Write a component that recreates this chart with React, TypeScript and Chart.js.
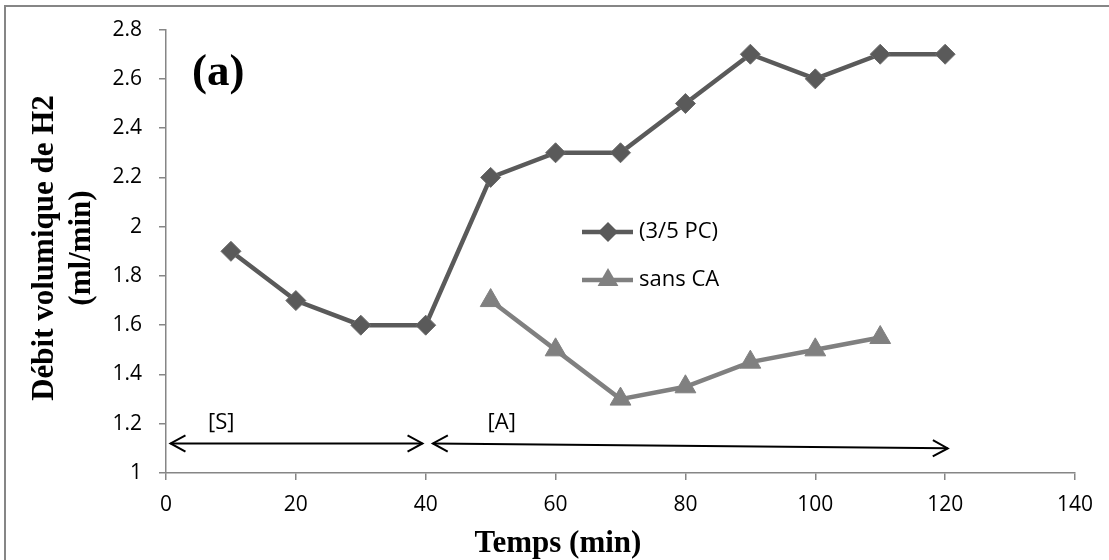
import React, { useEffect, useRef } from 'react';
import { Chart, registerables } from 'chart.js';

Chart.register(...registerables);

// ---- data ----
const pcTimes = [10, 20, 30, 40, 50, 60, 70, 80, 90, 100, 110, 120];
const pcValues = [1.9, 1.7, 1.6, 1.6, 2.2, 2.3, 2.3, 2.5, 2.7, 2.6, 2.7, 2.7];
const sansCaTimes = [50, 60, 70, 80, 90, 100, 110];
const sansCaValues = [1.7, 1.5, 1.3, 1.35, 1.45, 1.5, 1.55];
const seriesLabels = ['(3/5 PC)', 'sans CA'];
const xTitle = 'Temps (min)';
const yTitleLines = ['Débit volumique de H2', '(ml/min)'];
const panelLabel = '(a)';
const xRange = [0, 140, 20];
const yRange = [1, 2.8, 0.2];
// phase annotations in data units
const phaseLabels = ['[S]', '[A]'];
const phaseFromX = [0.7, 41.1];
const phaseFromY = [1.12, 1.12];
const phaseToX = [39.5, 120.4];
const phaseToY = [1.12, 1.1];
const phaseLabelX = [8.5, 51.7];
const phaseLabelY = [1.205, 1.205];

const DARK = '#5a5a5a';
const LIGHT = '#808080';
const AXIS = '#868686';
const TICK_FONT = '"Open Sans", "Liberation Sans", sans-serif';
const SERIF = '"Liberation Serif", "Times New Roman", serif';

function arrowHead(ctx: CanvasRenderingContext2D, tx: number, ty: number, fx: number, fy: number) {
  const ang = Math.atan2(ty - fy, tx - fx);
  const len = 17;
  const spread = 0.5;
  ctx.beginPath();
  ctx.moveTo(tx - len * Math.cos(ang - spread), ty - len * Math.sin(ang - spread));
  ctx.lineTo(tx, ty);
  ctx.lineTo(tx - len * Math.cos(ang + spread), ty - len * Math.sin(ang + spread));
  ctx.stroke();
}

const decorPlugin = {
  id: 'decor',
  afterDraw(chart: any) {
    const ctx: CanvasRenderingContext2D = chart.ctx;
    const xs = chart.scales.x;
    const ys = chart.scales.y;
    ctx.save();
    // outer frame (only left/top visible)
    ctx.strokeStyle = AXIS;
    ctx.lineWidth = 2;
    ctx.strokeRect(5, 6, 3000, 3000);

    // panel label
    ctx.fillStyle = '#000';
    ctx.font = `bold 45px ${SERIF}`;
    ctx.textAlign = 'left';
    ctx.textBaseline = 'alphabetic';
    ctx.fillText(panelLabel, 192, 85);

    // axis titles
    ctx.font = `bold 31px ${SERIF}`;
    ctx.textAlign = 'center';
    ctx.fillText(xTitle, 558, 552);
    ctx.save();
    ctx.translate(0, 248);
    ctx.rotate(-Math.PI / 2);
    ctx.fillText(yTitleLines[0], 0, 53);
    ctx.fillText(yTitleLines[1], 0, 90);
    ctx.restore();

    // phase arrows
    ctx.strokeStyle = '#000';
    ctx.lineWidth = 2;
    ctx.font = `22px ${TICK_FONT}`;
    ctx.textBaseline = 'middle';
    for (let i = 0; i < phaseLabels.length; i++) {
      const x1 = xs.getPixelForValue(phaseFromX[i]);
      const y1 = ys.getPixelForValue(phaseFromY[i]);
      const x2 = xs.getPixelForValue(phaseToX[i]);
      const y2 = ys.getPixelForValue(phaseToY[i]);
      ctx.beginPath();
      ctx.moveTo(x1, y1);
      ctx.lineTo(x2, y2);
      ctx.stroke();
      arrowHead(ctx, x1, y1, x2, y2);
      arrowHead(ctx, x2, y2, x1, y1);
      ctx.fillText(phaseLabels[i], xs.getPixelForValue(phaseLabelX[i]), ys.getPixelForValue(phaseLabelY[i]));
    }

    // legend
    const legendY = [232, 280];
    const colors = [DARK, LIGHT];
    for (let i = 0; i < 2; i++) {
      const y = legendY[i];
      ctx.strokeStyle = colors[i];
      ctx.fillStyle = colors[i];
      ctx.lineWidth = 4.5;
      ctx.beginPath();
      ctx.moveTo(582, y);
      ctx.lineTo(633, y);
      ctx.stroke();
      const cx = 608;
      ctx.beginPath();
      if (i === 0) {
        const r = 10;
        ctx.moveTo(cx, y - r);
        ctx.lineTo(cx + r, y);
        ctx.lineTo(cx, y + r);
        ctx.lineTo(cx - r, y);
      } else {
        const r = 12;
        ctx.moveTo(cx, y - r);
        ctx.lineTo(cx + r * 0.866, y + r / 2);
        ctx.lineTo(cx - r * 0.866, y + r / 2);
      }
      ctx.closePath();
      ctx.fill();
      ctx.fillStyle = '#000';
      ctx.textAlign = 'left';
      ctx.textBaseline = 'middle';
      ctx.font = `22px ${TICK_FONT}`;
      ctx.fillText(seriesLabels[i], 639, y);
    }
    ctx.restore();
  },
};

export default function App() {
  const ref = useRef<HTMLCanvasElement | null>(null);
  useEffect(() => {
    document.body.style.margin = '0';
    if (!ref.current) return;
    const chart = new Chart(ref.current, {
      type: 'line',
      data: {
        datasets: [
          {
            label: seriesLabels[0],
            data: pcTimes.map((t, i) => ({ x: t, y: pcValues[i] })),
            borderColor: DARK,
            backgroundColor: DARK,
            borderWidth: 4.5,
            pointStyle: 'rectRot',
            pointRadius: 10,
            pointBorderWidth: 1,
            pointBorderColor: '#6a6a6a',
            pointBackgroundColor: DARK,
            tension: 0,
          },
          {
            label: seriesLabels[1],
            data: sansCaTimes.map((t, i) => ({ x: t, y: sansCaValues[i] })),
            borderColor: LIGHT,
            backgroundColor: LIGHT,
            borderWidth: 4.5,
            pointStyle: 'triangle',
            pointRadius: 12,
            pointBorderWidth: 1,
            pointBorderColor: LIGHT,
            pointBackgroundColor: LIGHT,
            tension: 0,
          },
        ],
      },
      options: {
        animation: false,
        responsive: true,
        maintainAspectRatio: false,
        layout: { padding: { left: 0, top: 23, right: 34, bottom: 0 } },
        plugins: { legend: { display: false }, tooltip: { enabled: false } },
        scales: {
          x: {
            type: 'linear',
            min: xRange[0],
            max: xRange[1],
            ticks: {
              stepSize: xRange[2],
              color: '#000',
              font: { family: TICK_FONT, size: 21 },
              padding: 12,
              maxRotation: 0,
            },
            grid: { drawOnChartArea: false, drawTicks: true, tickLength: 7, color: AXIS, lineWidth: 1.5 },
            border: { display: true, color: AXIS, width: 1.5 },
            afterFit: (s: any) => { s.height = 87; },
          },
          y: {
            type: 'linear',
            min: yRange[0],
            max: yRange[1],
            ticks: {
              stepSize: yRange[2],
              color: '#000',
              font: { family: TICK_FONT, size: 21 },
              padding: 17,
              callback: (v: any) => String(Math.round(Number(v) * 10) / 10),
            },
            grid: { drawOnChartArea: false, drawTicks: true, tickLength: 7, color: AXIS, lineWidth: 1.5 },
            border: { display: true, color: AXIS, width: 1.5 },
            afterFit: (s: any) => { s.width = 166; },
          },
        },
      },
      plugins: [decorPlugin],
    });
    return () => chart.destroy();
  }, []);
  return (
    <div style={{ position: 'fixed', left: 0, top: 0, width: 1109, height: 560, background: '#fff' }}>
      <canvas ref={ref} />
    </div>
  );
}
